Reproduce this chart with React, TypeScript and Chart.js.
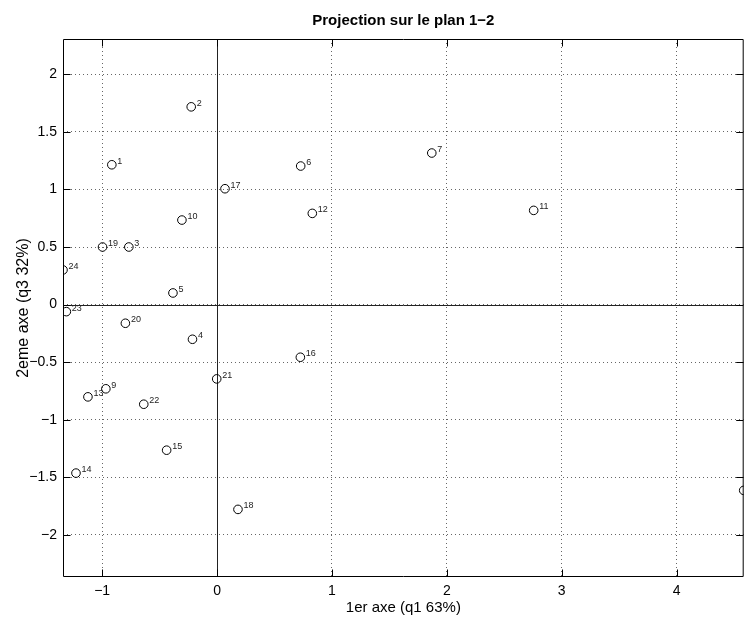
import React, { useEffect, useRef } from "react";
import { Chart, registerables } from "chart.js";

Chart.register(...registerables);

// ---- data ----
const pointLabels = [
  "1", "2", "3", "4", "5", "6", "7", "8", "9", "10", "11", "12",
  "13", "14", "15", "16", "17", "18", "19", "20", "21", "22", "23", "24",
];
const xValues = [
  -0.916, -0.225, -0.768, -0.214, -0.384, 0.728, 1.869, 4.584, -0.968, -0.306, 2.756, 0.829,
  -1.124, -1.228, -0.439, 0.725, 0.069, 0.182, -0.997, -0.798, -0.003, -0.638, -1.312, -1.341,
];
const yValues = [
  1.214, 1.717, 0.5, -0.301, 0.101, 1.203, 1.316, -1.613, -0.731, 0.734, 0.818, 0.792,
  -0.801, -1.463, -1.264, -0.457, 1.006, -1.778, 0.5, -0.162, -0.645, -0.865, -0.061, 0.301,
];
const xTickValues = [-1, 0, 1, 2, 3, 4];
const yTickValues = [-2, -1.5, -1, -0.5, 0, 0.5, 1, 1.5, 2];
const xMin = -1.341;
const xMax = 4.584;
const yMin = -2.365;
const yMax = 2.306;

const chartTitle = "Projection sur le plan 1\u22122";
const xTitle = "1er axe (q1 63%)";
const yTitle = "2eme axe (q3 32%)";

const FONT = "'Liberation Sans', Arial, Helvetica, sans-serif";

const fmt = (v: number) => {
  const s = String(Math.abs(v));
  return v < 0 ? "\u2212" + s : s;
};

const framePlugin = {
  id: "matlabFrame",
  beforeDatasetsDraw(chart: any) {
    const { ctx, chartArea, scales } = chart;
    const xs = scales.x;
    const ys = scales.y;
    const L = chartArea.left + 0.5;
    const R = chartArea.right - 0.5;
    const T = chartArea.top + 0.5;
    const B = chartArea.bottom - 0.5;
    ctx.save();
    // zero lines
    ctx.strokeStyle = "#222";
    ctx.lineWidth = 1;
    ctx.setLineDash([]);
    const x0 = Math.round(xs.getPixelForValue(0)) + 0.5;
    const y0 = Math.round(ys.getPixelForValue(0)) + 0.5;
    ctx.beginPath();
    ctx.moveTo(x0, T);
    ctx.lineTo(x0, B);
    ctx.moveTo(L, y0);
    ctx.lineTo(R, y0);
    ctx.stroke();
    // frame
    ctx.strokeStyle = "#000";
    ctx.beginPath();
    ctx.rect(L, T, R - L, B - T);
    ctx.stroke();
    // inward ticks
    const tl = 7;
    ctx.beginPath();
    xTickValues.forEach((v) => {
      const px = Math.round(xs.getPixelForValue(v)) + 0.5;
      ctx.moveTo(px, B);
      ctx.lineTo(px, B - tl);
      ctx.moveTo(px, T);
      ctx.lineTo(px, T + tl);
    });
    yTickValues.forEach((v) => {
      const py = Math.round(ys.getPixelForValue(v)) + 0.5;
      ctx.moveTo(L, py);
      ctx.lineTo(L + tl, py);
      ctx.moveTo(R, py);
      ctx.lineTo(R - tl, py);
    });
    ctx.stroke();
    ctx.restore();
  },
  afterDatasetsDraw(chart: any) {
    const { ctx } = chart;
    const meta = chart.getDatasetMeta(0);
    ctx.save();
    ctx.font = `9px ${FONT}`;
    ctx.fillStyle = "#222";
    ctx.textAlign = "left";
    ctx.textBaseline = "alphabetic";
    meta.data.forEach((el: any, i: number) => {
      ctx.fillText(pointLabels[i], el.x + 5.5, el.y - 1);
    });
    ctx.restore();
  },
};

export default function App() {
  const canvasRef = useRef<HTMLCanvasElement | null>(null);

  useEffect(() => {
    if (!canvasRef.current) return;
    const chart = new Chart(canvasRef.current, {
      type: "scatter",
      data: {
        datasets: [
          {
            label: "individus",
            data: xValues.map((x, i) => ({ x, y: yValues[i] })),
            pointRadius: 4.3,
            pointStyle: "circle",
            backgroundColor: "rgba(0,0,0,0)",
            borderColor: "#000",
            borderWidth: 1,
            clip: 0,
          } as any,
        ],
      },
      options: {
        animation: false,
        responsive: true,
        maintainAspectRatio: false,
        devicePixelRatio: 1,
        events: [],
        layout: { padding: { top: 0, right: 3, bottom: 0, left: 0 } },
        plugins: {
          legend: { display: false },
          tooltip: { enabled: false },
          title: {
            display: true,
            text: chartTitle,
            fullSize: false,
            color: "#000",
            font: { family: FONT, size: 15, weight: "bold" },
            padding: { top: 12, bottom: 9 },
          },
        },
        scales: {
          x: {
            type: "linear",
            position: "bottom",
            min: xMin,
            max: xMax,
            afterFit: (s: any) => {
              s.height = 40;
            },
            afterBuildTicks: (s: any) => {
              s.ticks = xTickValues.map((v) => ({ value: v }));
            },
            ticks: {
              includeBounds: false,
              stepSize: 1,
              color: "#000",
              padding: 6,
              maxRotation: 0,
              font: { family: FONT, size: 14 },
              callback: (v: any) => fmt(Number(v)),
            },
            grid: {
              color: "rgba(0,0,0,0.6)",
              lineWidth: 1,
              drawTicks: false,
            },
            border: { display: false, dash: [1, 3] },
            title: {
              display: true,
              text: xTitle,
              color: "#000",
              font: { family: FONT, size: 15 },
              padding: { top: 0, bottom: 0 },
            },
          },
          y: {
            type: "linear",
            position: "left",
            min: yMin,
            max: yMax,
            afterFit: (s: any) => {
              s.width = 63;
            },
            afterBuildTicks: (s: any) => {
              s.ticks = yTickValues.map((v) => ({ value: v }));
            },
            ticks: {
              includeBounds: false,
              stepSize: 0.5,
              color: "#000",
              padding: 6,
              font: { family: FONT, size: 14 },
              callback: (v: any) => fmt(Number(v)),
            },
            grid: {
              color: "rgba(0,0,0,0.6)",
              lineWidth: 1,
              drawTicks: false,
            },
            border: { display: false, dash: [1, 3] },
            title: {
              display: true,
              text: yTitle,
              color: "#000",
              font: { family: FONT, size: 16 },
              padding: { top: 14, bottom: 0 },
            },
          },
        },
      },
      plugins: [framePlugin],
    });
    return () => chart.destroy();
  }, []);

  return (
    <div style={{ position: "absolute", left: 0, top: 0, width: 749, height: 617, background: "#fff" }}>
      <canvas ref={canvasRef} />
    </div>
  );
}
